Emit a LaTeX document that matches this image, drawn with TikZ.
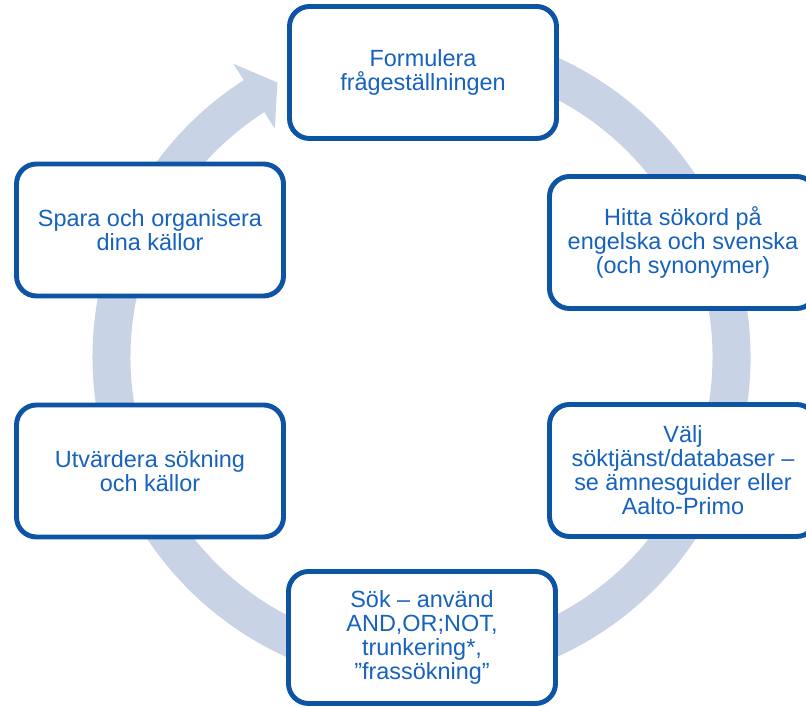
\documentclass[tikz,border=0pt]{standalone}
\usepackage{fontspec}
\setmainfont{Liberation Sans}
\definecolor{boxblue}{RGB}{14,84,165}
\definecolor{textblue}{RGB}{22,98,190}
\definecolor{ringblue}{RGB}{201,211,230}

\begin{document}
\begin{tikzpicture}[x=0.03cm, y=0.03cm,
        stepbox/.style={draw=boxblue, line width=4.2pt, fill=white, rounded corners=0.6cm,
            minimum width=8.01cm, minimum height=3.96cm, align=center, text=textblue,
            font=\fontsize{20}{20.5}\selectfont}]
        \clip (0,0) rectangle (806,707);
        % cycle arrow behind the boxes
        \fill[ringblue, shift={(421.5,350)}] (100:329) arc[start angle=100, end angle=-237.3, radius=329]
            -- (-237.3:348.5) -- (-242.3:310) -- (-237.3:271.5) -- (-237.3:291)
            arc[start angle=-237.3, end angle=100, radius=291] -- cycle;

        \node[stepbox] (formulera) at (423,634.5) {Formulera\\frågeställningen};
        \node[stepbox] (sokord) at (683,464.5) {Hitta sökord på\\engelska och svenska\\(och synonymer)};
        \node[stepbox] (valj) at (683,236.5) {Välj\\söktjänst/databaser –\\se ämnesguider eller\\Aalto-Primo};
        \node[stepbox] (sok) at (422,69.5) {Sök – använd\\AND,OR;NOT,\\trunkering*,\\”frassökning”};
        \node[stepbox] (utvardera) at (150,236) {Utvärdera sökning\\och källor};
        \node[stepbox] (spara) at (150,477) {Spara och organisera\\dina källor};
    \end{tikzpicture}
\end{document}
